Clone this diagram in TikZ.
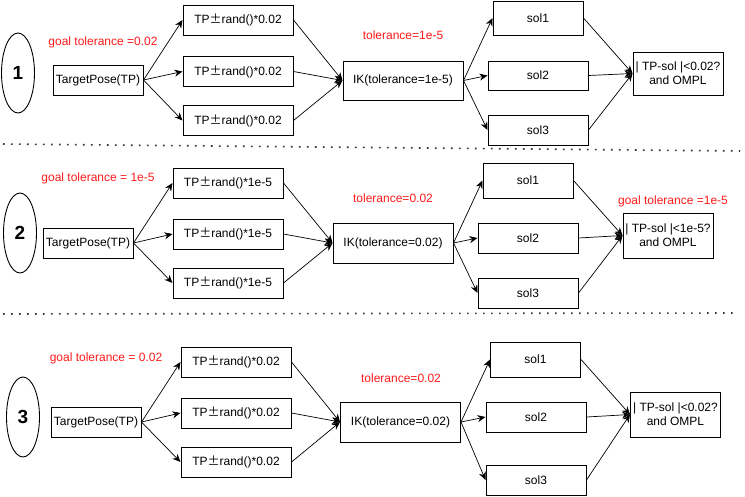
\documentclass[tikz,border=0pt]{standalone}
\usepackage{fontspec}
\setsansfont{Liberation Sans}
\newfontfamily\cjkfont[RawFeature=+fwid]{Noto Sans CJK SC}
\usepackage{tikz}
\usetikzlibrary{shapes.geometric, arrows.meta}
\definecolor{tolred}{HTML}{FF1A1A}
\definecolor{sepgray}{HTML}{333333}
\newcommand{\pmw}{{\cjkfont ±}}
\tikzset{
  arr/.style={-{Stealth[length=8pt, width=7pt]}, line width=0.7pt, black},
  box/.style={rectangle, draw=black, line width=1pt, inner sep=1pt, align=center, text=black},
  rowno/.style={ellipse, draw=black, line width=0.9pt, minimum width=33pt, minimum height=80pt, inner sep=0pt, font=\sffamily\fontsize{19}{21}\selectfont\bfseries},
  tol/.style={text=tolred},
  sepline/.style={line width=1.6pt, dash pattern=on 1.6pt off 6.4pt, sepgray},
}

\begin{document}
\begin{tikzpicture}[x=1pt, y=-1pt, font=\sffamily\fontsize{12}{14}\selectfont]
  \useasboundingbox (0,0) rectangle (745,496);

  % Row 1
  \node[rowno] (noa) at (18,73) {1};
  \node[box, minimum width=90pt, minimum height=30pt] (tpa) at (98,80) {TargetPose(TP)};
  \node[tol] (goala) at (103,42) {goal tolerance =0.02};
  \node[box, minimum width=110pt, minimum height=30pt] (rnda1) at (238,20) {TP\pmw rand()*0.02};
  \node[box, minimum width=110pt, minimum height=30pt] (rnda2) at (238,71.5) {TP\pmw rand()*0.02};
  \node[box, minimum width=110pt, minimum height=30pt] (rnda3) at (238,120.5) {TP\pmw rand()*0.02};
  \node[box, minimum width=120pt, minimum height=39pt] (ika) at (403,80.5) {IK(tolerance=1e-5)};
  \node[tol] (tola) at (403,35) {tolerance=1e-5};
  \node[box, minimum width=90pt, minimum height=34pt] (sola1) at (538,18) {sol1};
  \node[box, minimum width=100pt, minimum height=29pt] (sola2) at (538,75.5) {sol2};
  \node[box, minimum width=100pt, minimum height=30pt] (sola3) at (538,130) {sol3};
  \node[box, inner sep=0pt, minimum width=90pt, minimum height=43pt] (chka) at (678,73.5) {| TP-sol |<0.02?\\and OMPL};

  \draw[sepline] (3,144) -- (740,151);

  % Row 2
  \node[rowno] (nob) at (20,233) {2};
  \node[box, minimum width=90pt, minimum height=30pt] (tpb) at (88,243) {TargetPose(TP)};
  \node[tol] (goalb) at (98,178) {goal tolerance = 1e-5};
  \node[box, minimum width=110pt, minimum height=30pt] (rndb1) at (228,183) {TP\pmw rand()*1e-5};
  \node[box, minimum width=110pt, minimum height=30pt] (rndb2) at (228,234) {TP\pmw rand()*1e-5};
  \node[box, minimum width=110pt, minimum height=30pt] (rndb3) at (228,283) {TP\pmw rand()*1e-5};
  \node[box, minimum width=120pt, minimum height=40pt] (ikb) at (393,243) {IK(tolerance=0.02)};
  \node[tol] (tolb) at (393,198) {tolerance=0.02};
  \node[box, minimum width=90pt, minimum height=35pt] (solb1) at (528,180.5) {sol1};
  \node[box, minimum width=100pt, minimum height=30pt] (solb2) at (528,238) {sol2};
  \node[box, minimum width=100pt, minimum height=30pt] (solb3) at (528,293) {sol3};
  \node[box, inner sep=0pt, minimum width=90pt, minimum height=45pt] (chkb) at (668,235.5) {| TP-sol |<1e-5?\\and OMPL};
  \node[tol] (goalb2) at (673,201) {goal tolerance =1e-5};

  \draw[sepline] (3,314) -- (736,313);

  % Row 3
  \node[rowno] (noc) at (23,417) {3};
  \node[box, minimum width=90pt, minimum height=30pt] (tpc) at (96,422) {TargetPose(TP)};
  \node[tol] (goalc) at (106,358) {goal tolerance = 0.02};
  \node[box, minimum width=110pt, minimum height=30pt] (rndc1) at (236,362) {TP\pmw rand()*0.02};
  \node[box, minimum width=110pt, minimum height=30pt] (rndc2) at (236,413) {TP\pmw rand()*0.02};
  \node[box, minimum width=110pt, minimum height=30pt] (rndc3) at (236,462) {TP\pmw rand()*0.02};
  \node[box, minimum width=120pt, minimum height=40pt] (ikc) at (400.5,422) {IK(tolerance=0.02)};
  \node[tol] (tolc) at (401,378) {tolerance=0.02};
  \node[box, minimum width=90pt, minimum height=35pt] (solc1) at (535.5,359.5) {sol1};
  \node[box, minimum width=100pt, minimum height=30pt] (solc2) at (536,417) {sol2};
  \node[box, minimum width=100pt, minimum height=30pt] (solc3) at (536,480) {sol3};
  \node[box, inner sep=0pt, minimum width=90pt, minimum height=45pt] (chkc) at (675.5,414.5) {| TP-sol |<0.02?\\and OMPL};

  % Fan out and back in
  \foreach \r in {a,b,c} {
    \foreach \i in {1,2,3} {
      \draw[arr] (tp\r.east) -- (rnd\r\i.west);
      \draw[arr] (rnd\r\i.east) -- (ik\r.west);
      \draw[arr] (ik\r.east) -- (sol\r\i.west);
      \draw[arr] (sol\r\i.east) -- (chk\r.west);
    }
  }
\end{tikzpicture}
\end{document}
